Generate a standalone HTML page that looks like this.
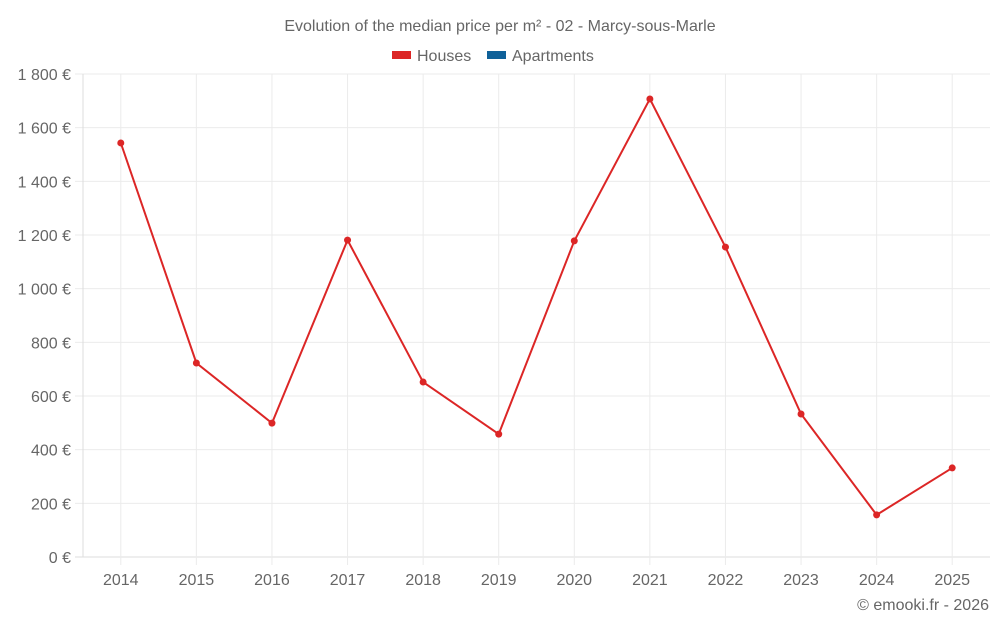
<!DOCTYPE html>
<html><head><meta charset="utf-8">
<style>
html,body{margin:0;padding:0;background:#fff;}
svg{display:block;font-family:"Liberation Sans",sans-serif;}
</style></head>
<body>
<svg id="chart" width="1000" height="625" viewBox="0 0 1000 625">
<text x="500" y="31" text-anchor="middle" font-size="16" fill="#666">Evolution of the median price per m² - 02 - Marcy-sous-Marle</text>
<g><rect x="392" y="51" width="19" height="8" fill="#dc2626"/><text x="417" y="61" font-size="16" fill="#666">Houses</text></g>
<g><rect x="487" y="51" width="19" height="8" fill="#0f6199"/><text x="512" y="61" font-size="16" fill="#666">Apartments</text></g>
<g id="grid"></g><g id="axes"></g><g id="series"></g>
<text x="989" y="610" text-anchor="end" font-size="16" fill="#666">© emooki.fr - 2026</text>
</svg>
<script>
const categories=["2014","2015","2016","2017","2018","2019","2020","2021","2022","2023","2024","2025"];
const houses=[1543,723,499,1181,652,458,1178,1707,1155,533,157,332];
const yTicks=[0,200,400,600,800,1000,1200,1400,1600,1800];
const yTickLabels=["0 €","200 €","400 €","600 €","800 €","1 000 €","1 200 €","1 400 €","1 600 €","1 800 €"];
const L=83,R=990,T=74,B=557,yMax=1800;
const ns="http://www.w3.org/2000/svg";
const step=(R-L)/categories.length;
const x=i=>L+step*(i+0.5);
const y=v=>B-(v/yMax)*(B-T);
function mk(tag,attrs,parent){const e=document.createElementNS(ns,tag);for(const k in attrs)e.setAttribute(k,attrs[k]);parent.appendChild(e);return e;}
const grid=document.getElementById('grid'),axes=document.getElementById('axes'),series=document.getElementById('series');
yTicks.forEach((t,i)=>{
 const g=mk('line',{x1:75,x2:R,y1:y(t),y2:y(t),stroke:i===0?'#ddd':'#ebebeb','stroke-width':1},grid);
 
 
 const tx=mk('text',{x:71,y:y(t)+6,'text-anchor':'end','font-size':16,fill:'#666'},axes);
 tx.textContent=yTickLabels[i];
 
 
});
categories.forEach((c,i)=>{
 const g=mk('line',{x1:x(i),x2:x(i),y1:T,y2:B+8,stroke:'#ebebeb','stroke-width':1},grid);
 
 
 const tx=mk('text',{x:x(i),y:585,'text-anchor':'middle','font-size':16,fill:'#666'},axes);
 tx.textContent=c;
 
 
});
const ax=mk('line',{x1:L,x2:L,y1:T,y2:B,stroke:'#ddd'},axes);


const pl=mk('polyline',{points:houses.map((v,i)=>x(i)+','+y(v)).join(' '),fill:'none',stroke:'#dc2626','stroke-width':2},series);


houses.forEach((v,i)=>{
 const c=mk('circle',{cx:x(i),cy:y(v),r:3.5,fill:'#dc2626'},series);
 
 
});
</script>
</body></html>
